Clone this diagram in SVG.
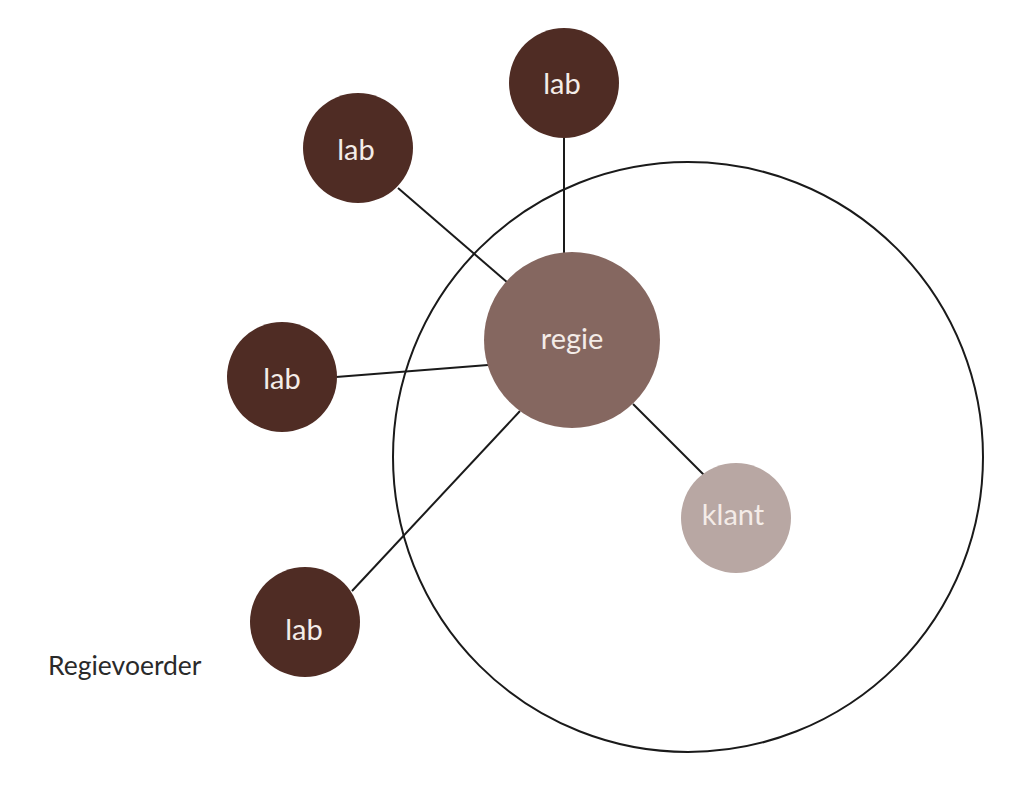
<svg xmlns="http://www.w3.org/2000/svg" width="1024" height="790" viewBox="0 0 1024 790">
<style>
.lab{fill:#4f2c24}
.t{font-family:Lato,"Open Sans",sans-serif;fill:#f4ece8;font-size:29px;text-anchor:middle}
.c{stroke:#1a1a1a;stroke-width:2;fill:none}
</style>
<rect width="1024" height="790" fill="#ffffff"/>
<g id="domain"><circle cx="688" cy="457" r="295" fill="none" stroke="#1a1a1a" stroke-width="2"/></g>
<g id="connectors">
<line class="c" x1="564" y1="137" x2="564" y2="255" stroke-width="3.5"/>
<line class="c" x1="398" y1="188" x2="508" y2="283"/>
<line class="c" x1="336" y1="377" x2="488" y2="365"/>
<line class="c" x1="352" y1="591" x2="520" y2="411"/>
<line class="c" x1="633" y1="404" x2="704" y2="475"/>
</g>
<g id="lab-top"><circle class="lab" cx="564" cy="83" r="55"/><text class="t" x="562" y="94">lab</text></g>
<g id="lab-upper-left"><circle class="lab" cx="358" cy="148" r="55"/><text class="t" x="356" y="160">lab</text></g>
<g id="lab-left"><circle class="lab" cx="282" cy="377" r="55"/><text class="t" x="282" y="389">lab</text></g>
<g id="lab-bottom"><circle class="lab" cx="305" cy="622" r="55"/><text class="t" x="304" y="640">lab</text></g>
<g id="regie"><circle cx="572" cy="340" r="88" fill="#856760"/><text class="t" x="572" y="349">regie</text></g>
<g id="klant"><circle cx="736" cy="518" r="55" fill="#b8a7a3"/><text class="t" x="733" y="525">klant</text></g>
<g id="label"><text x="48" y="675" font-family="Lato,'Open Sans',sans-serif" font-size="26.5" fill="#2a2a2a">Regievoerder</text></g>
</svg>
